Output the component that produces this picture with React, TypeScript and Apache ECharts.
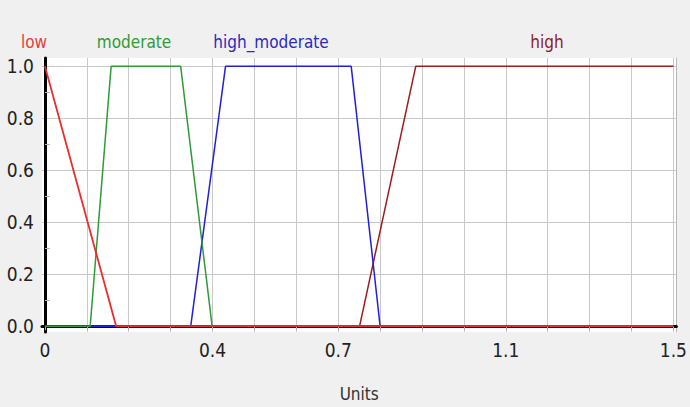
import React, { useEffect, useRef } from "react";
import * as echarts from "echarts";

const lowPoints: number[][] = [[0, 1], [0.17, 0], [1.5, 0]];
const moderatePoints: number[][] = [[0, 0], [0.108, 0], [0.158, 1], [0.324, 1], [0.399, 0], [1.5, 0]];
const highModeratePoints: number[][] = [[0, 0], [0.348, 0], [0.431, 1], [0.731, 1], [0.8, 0], [1.5, 0]];
const highPoints: number[][] = [[0, 0], [0.751, 0], [0.885, 1], [1.5, 1]];

const xTickValues = [0, 0.1, 0.2, 0.3, 0.4, 0.5, 0.6, 0.7, 0.8, 0.9, 1.0, 1.1, 1.2, 1.3, 1.4, 1.5];
const xLabelValues = [0, 0.4, 0.7, 1.1, 1.5];
const yLabelValues = [0, 0.2, 0.4, 0.6, 0.8, 1.0];
const yMinorTickValues = [0.1, 0.3, 0.5, 0.7, 0.9];

const FONT = "'Liberation Sans Narrow', 'Arial Narrow', 'DejaVu Sans Condensed', 'Roboto', sans-serif";

export default function App() {
  const ref = useRef<HTMLDivElement>(null);
  useEffect(() => {
    if (!ref.current) return;
    const chart = echarts.init(ref.current, null, { renderer: "svg" });
    const xMin = -0.007, xMax = 1.507, yMin = -0.0224, yMax = 1.032;
    chart.setOption({
      animation: false,
      backgroundColor: "#f0f0f0",
      grid: { left: 42, right: 10, top: 58, bottom: 67, show: true, backgroundColor: "#ffffff", borderWidth: 0 },
      xAxis: [
        {
          type: "value", min: xMin, max: xMax,
          axisLine: { show: true, lineStyle: { color: "#a8a8a8", width: 1 } },
          axisTick: { show: true, customValues: xTickValues, length: 4, lineStyle: { color: "#a8a8a8" } },
          axisLabel: {
            customValues: xLabelValues, margin: 8, fontSize: 19, fontFamily: FONT, color: "#222",
            formatter: (v: number) => (Math.abs(v) < 1e-9 ? "0" : v.toFixed(1)),
          },
          splitLine: { show: true, lineStyle: { color: "#c8c8c8", width: 1 } },
          name: "Units", nameLocation: "middle", nameGap: 53,
          nameTextStyle: { fontSize: 17, fontFamily: FONT, color: "#333" },
        },
        {
          type: "value", position: "top", min: xMin, max: xMax,
          axisLine: { show: true, lineStyle: { color: "#000", width: 3 } },
          axisTick: { show: false }, axisLabel: { show: false }, splitLine: { show: false },
        },
      ],
      yAxis: [
        {
          type: "value", min: yMin, max: yMax,
          axisLine: { show: true, lineStyle: { color: "#000", width: 3 } },
          axisTick: { show: false, customValues: yLabelValues },
          axisLabel: {
            customValues: yLabelValues, margin: 8, fontSize: 19, fontFamily: FONT, color: "#222",
            formatter: (v: number) => v.toFixed(1),
          },
          splitLine: { show: true, lineStyle: { color: "#c8c8c8", width: 1 } },
        },
        {
          type: "value", position: "left", min: yMin, max: yMax,
          axisLine: { show: false },
          axisTick: { show: true, inside: true, length: 5, customValues: yMinorTickValues, lineStyle: { color: "#b0b0b0" } },
          axisLabel: { show: false }, splitLine: { show: false },
        },
        {
          type: "value", position: "right", min: yMin, max: yMax,
          axisLine: { show: true, lineStyle: { color: "#b8b8b8", width: 1 } },
          axisTick: { show: false }, axisLabel: { show: false }, splitLine: { show: false },
        },
      ],
      graphic: [
        { type: "text", x: 34, y: 42, style: { text: "low", fill: "#e04040", font: `17px ${FONT}`, textAlign: "center", textVerticalAlign: "middle" } },
        { type: "text", x: 134, y: 42, style: { text: "moderate", fill: "#2f9a38", font: `17px ${FONT}`, textAlign: "center", textVerticalAlign: "middle" } },
        { type: "text", x: 271, y: 42, style: { text: "high_moderate", fill: "#2a2ac0", font: `17px ${FONT}`, textAlign: "center", textVerticalAlign: "middle" } },
        { type: "text", x: 547, y: 42, style: { text: "high", fill: "#8e2020", font: `17px ${FONT}`, textAlign: "center", textVerticalAlign: "middle" } },
      ],
      series: [
        { name: "high", type: "line", data: highPoints, showSymbol: false, lineStyle: { color: "#9a1c1c", width: 1.5 }, itemStyle: { color: "#9a1c1c" } },
        { name: "high_moderate", type: "line", data: highModeratePoints, showSymbol: false, lineStyle: { color: "#2020d8", width: 1.5 }, itemStyle: { color: "#2020d8" } },
        { name: "moderate", type: "line", data: moderatePoints, showSymbol: false, lineStyle: { color: "#2e9a38", width: 1.5 }, itemStyle: { color: "#2e9a38" } },
        { name: "low", type: "line", data: lowPoints, showSymbol: false, lineStyle: { color: "#e82e2e", width: 1.8 }, itemStyle: { color: "#e82e2e" } },
      ],
    });
    return () => chart.dispose();
  }, []);
  return <div ref={ref} style={{ position: "fixed", left: 0, top: 0, width: 690, height: 407 }} />;
}
